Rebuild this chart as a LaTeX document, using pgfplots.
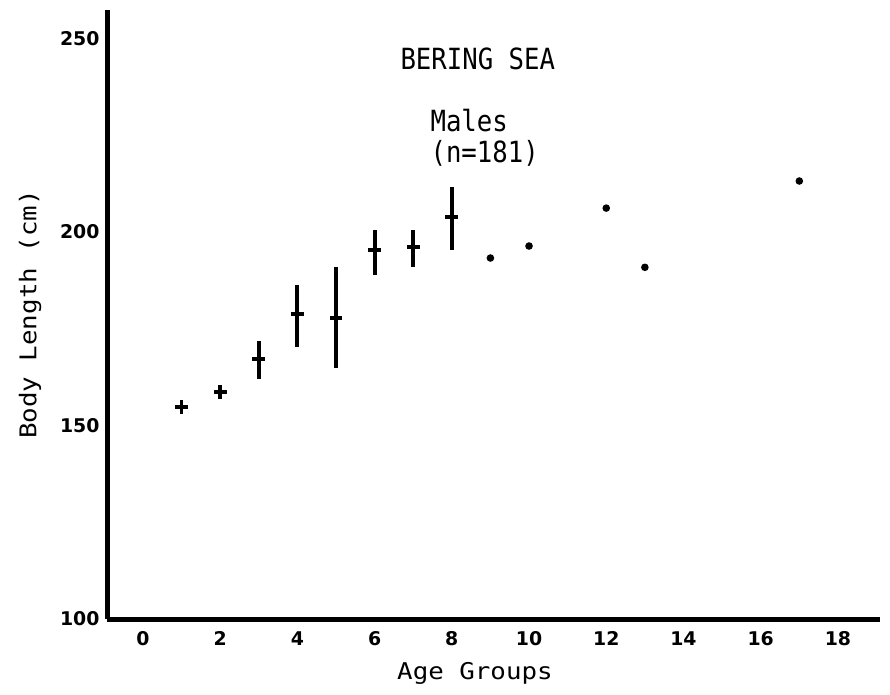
\documentclass[border=0pt]{standalone}
\usepackage{fontspec}
\usepackage{pgfplots}
\pgfplotsset{compat=1.18}
\newfontfamily\titlefont[FakeStretch=0.88]{DejaVu Sans Mono}
\newfontfamily\labelfont[FakeStretch=1.12]{DejaVu Sans Mono}
\newfontfamily\tickfont{DejaVu Sans}
\begin{document}
\begin{tikzpicture}
\begin{axis}[
  name=ax,
  scale only axis,
  width=278.28pt, height=219.24pt,
  xmin=-0.93, xmax=19.09,
  ymin=100, ymax=257.4,
  axis x line*=bottom, axis y line*=left,
  axis line style={-, line width=1.8pt},
  xtick={0,2,...,18}, ytick={100,150,200,250},
  major tick length=0pt,
  /pgf/number format/assume math mode=true,
  ticklabel style={font=\tickfont\bfseries\fontsize{6.8}{7}\selectfont},
  xticklabel style={anchor=north, inner sep=0pt, yshift=-4.4pt},
  yticklabel style={anchor=east, inner sep=0pt, xshift=-2.5pt},
  xlabel={Age Groups},
  xlabel style={at={(axis description cs:0.476,-0.0985)}, anchor=base, font=\labelfont\fontsize{8.3}{10}\selectfont, inner sep=0pt},
  ylabel={Body Length (cm)},
  ylabel style={at={(axis description cs:-0.0995,0.5)}, anchor=center, font=\labelfont\fontsize{8.3}{10}\selectfont, inner sep=0pt},
]
\addplot[only marks, mark=-, mark size=2.3pt, black, line width=1.3pt,
  error bars/.cd, y dir=both, y explicit, error mark=none,
  error bar style={line width=1.4pt, black}]
  table[x=x, y=y, y error plus=ep, y error minus=em] {
x y ep em
1 154.8 1.7 1.7
2 158.7 1.8 1.9
3 167.2 4.6 5.2
4 178.8 7.5 8.5
5 177.8 13.2 12.9
6 195.3 5.2 6.4
7 196.1 4.4 5.2
8 203.9 7.7 8.6
};
\addplot[only marks, mark=*, mark size=1.15pt, black] table[x=x, y=y] {
x y
9 193.3
10 196.4
12 206.2
13 190.9
17 213.2
};
\node[anchor=base west, inner sep=0pt, font=\titlefont\fontsize{10.5}{12}\selectfont] at (axis description cs:0.379,0.9015) {BERING SEA};
\node[anchor=base west, inner sep=0pt, font=\titlefont\fontsize{10.5}{12}\selectfont] at (axis description cs:0.4179,0.7997) {Males};
\node[anchor=base west, inner sep=0pt, font=\titlefont\fontsize{10.5}{12}\selectfont] at (axis description cs:0.4179,0.7488) {(n=181)};
\end{axis}
\path ([shift={(-38.52pt,-27pt)}]ax.south west) rectangle ([shift={(3.6pt,3.6pt)}]ax.north east);
\end{tikzpicture}
\end{document}
